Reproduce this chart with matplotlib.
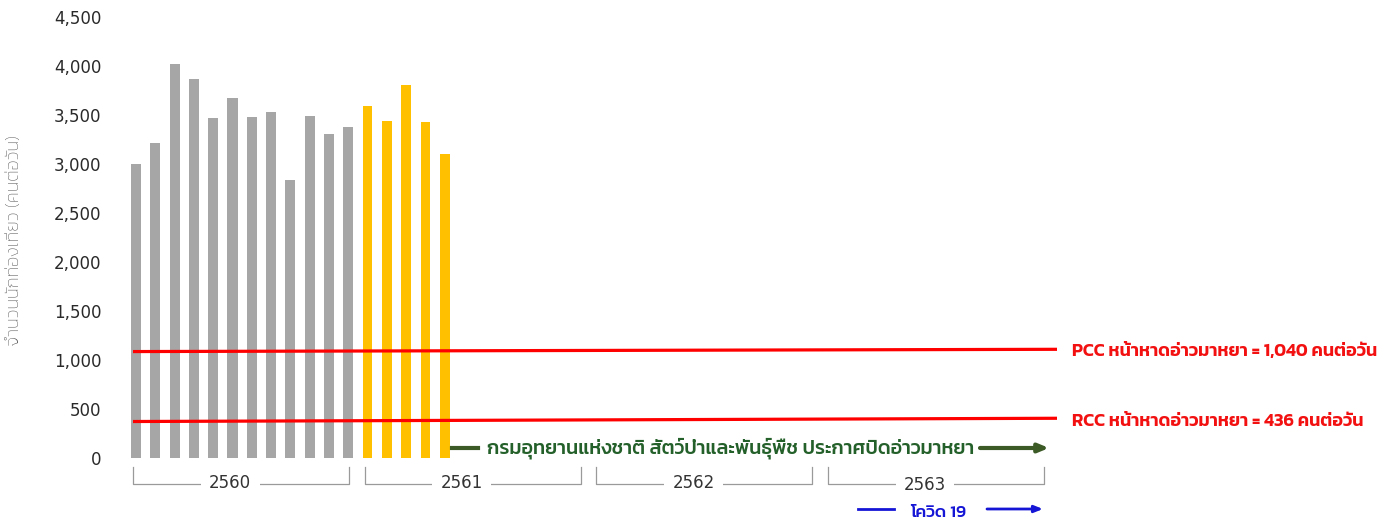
import matplotlib
matplotlib.use("Agg")
import matplotlib.pyplot as plt
import numpy as np

# ---------------- data ----------------
visitors_2560 = [3000, 3208, 4013, 3865, 3463, 3665, 3473, 3525, 2838, 3484, 3304, 3370]
visitors_2561 = [3588, 3439, 3806, 3422, 3097]
years = ["2560", "2561", "2562", "2563"]
pcc_line = [1085, 1108]   # drawn line (start, end)
rcc_line = [372, 405]
pcc_label = "PCC หน้าหาดอ่าวมาหยา = 1,040 คนต่อวัน"
rcc_label = "RCC หน้าหาดอ่าวมาหยา = 436 คนต่อวัน"
closure_label = "กรมอุทยานแห่งชาติ สัตว์ป่าและพันธุ์พืช ประกาศปิดอ่าวมาหยา"
covid_label = "โควิด 19"
y_label = "จำนวนนักท่องเที่ยว (คนต่อวัน)"
y_ticks = [0, 500, 1000, 1500, 2000, 2500, 3000, 3500, 4000, 4500]

GREY = "#a6a6a6"
YELLOW = "#ffc000"
RED = "#ff0000"
GREEN_T = "#24602a"
GREEN_A = "#3b5a25"
BLUE = "#1515d6"
THAI = ["Kanit", "DejaVu Sans"]

W, H = 1390, 522
fig = plt.figure(figsize=(W / 100, H / 100), dpi=100)

# pixel layout helpers
X0, DX = 136.0, 19.3          # first bar centre, month spacing (px)
Y0, DY = 458.0, 0.0981        # zero line (px), px per unit
def px2x(px):
    return (px - X0) / DX
def px2y(py):
    return (Y0 - py) / DY

left_px, right_px, top_px = 110, 1060, Y0 - 4500 * DY
ax = fig.add_axes([left_px / W, (H - Y0) / H, (right_px - left_px) / W, (Y0 - top_px) / H])
ax.set_xlim(px2x(left_px), px2x(right_px))
ax.set_ylim(0, 4500)
for s in ax.spines.values():
    s.set_visible(False)
ax.set_xticks([])
ax.set_yticks(y_ticks)
ax.set_yticklabels([f"{v:,}" for v in y_ticks], fontsize=12, color="#2a2a2a", family="DejaVu Sans")
ax.tick_params(axis="y", length=0, pad=6)

# bars
n1, n2 = len(visitors_2560), len(visitors_2561)
x1 = np.arange(n1)
x2 = np.arange(n1, n1 + n2)
ax.bar(x1, visitors_2560, width=0.52, color=GREY, zorder=2)
ax.bar(x2, visitors_2561, width=0.50, color=YELLOW, zorder=2)

# capacity lines
xs = [px2x(133), px2x(1057)]
ax.plot(xs, pcc_line, color=RED, lw=2.3, zorder=3, clip_on=False, solid_capstyle="butt")
ax.plot(xs, rcc_line, color=RED, lw=2.3, zorder=3, clip_on=False, solid_capstyle="butt")
ax.text(px2x(1072), px2y(352), pcc_label, color="#f21010", fontsize=13, family=THAI,
        weight="semibold", va="center", ha="left", clip_on=False)
ax.text(px2x(1072), px2y(422), rcc_label, color="#f21010", fontsize=13, family=THAI,
        weight="semibold", va="center", ha="left", clip_on=False)

# year brackets
for k, yr in enumerate(years):
    a = 12 * k - 0.15
    b = 12 * k + 11.05
    yb = px2y(484)
    yt = px2y(467)
    ax.plot([a, a, b, b], [yt, yb, yb, yt], color="#9a9a9a", lw=0.9, clip_on=False)
    ly = px2y(483 if k < 3 else 485)
    ax.text((a + b) / 2 - 0.57, ly, yr, ha="center", va="center", fontsize=12,
            color="#333333", family="DejaVu Sans", clip_on=False,
            bbox=dict(boxstyle="square,pad=0.5", fc="white", ec="none"))

# closure arrow (green)
gy = px2y(448)
ax.plot([px2x(452), px2x(478)], [gy, gy], color=GREEN_A, lw=3, clip_on=False)
ax.text(px2x(487), px2y(448), closure_label, color=GREEN_T, fontsize=14.2, family=THAI,
        weight="medium", ha="left", va="center", clip_on=False)
ax.annotate("", xy=(px2x(1049), gy), xytext=(px2x(980), gy),
            arrowprops=dict(arrowstyle="-|>,head_length=0.6,head_width=0.25", lw=3,
                            color=GREEN_A, shrinkA=0, shrinkB=0), annotation_clip=False)

# covid arrow (blue)
by = px2y(509)
ax.plot([px2x(858), px2x(894)], [by, by], color=BLUE, lw=2, clip_on=False)
ax.text(px2x(938), px2y(513), covid_label, color=BLUE, fontsize=12.5, family=THAI,
        weight="medium", ha="center", va="center", clip_on=False)
ax.annotate("", xy=(px2x(1043), by), xytext=(px2x(987), by),
            arrowprops=dict(arrowstyle="-|>,head_length=0.5,head_width=0.2", lw=2,
                            color=BLUE, shrinkA=0, shrinkB=0), annotation_clip=False)

# y label
fig.text(15 / W, 1 - 240 / H, y_label, rotation=90, ha="center", va="center",
         fontsize=13.2, color="#555555", family=THAI, weight="light")

fig.savefig("out.png", dpi=100)
